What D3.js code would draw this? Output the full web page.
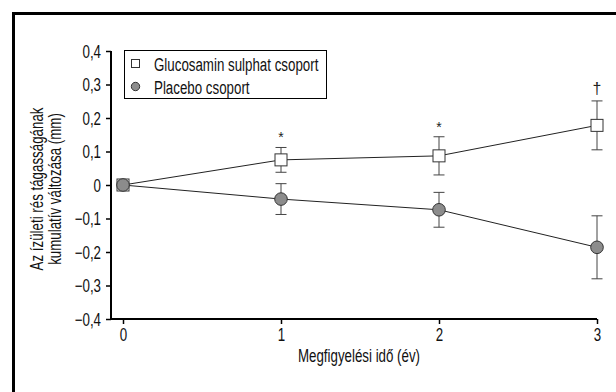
<!DOCTYPE html>
<html><head><meta charset="utf-8">
<script src="https://cdn.jsdelivr.net/npm/d3@7"></script>
<style>
html,body{margin:0;padding:0;background:#fff;}
svg text{font-family:"Liberation Sans",Arial,sans-serif;fill:#111;}
</style></head>
<body>
<svg id="c" width="616" height="392"></svg>
<script>
const years = [0, 1, 2, 3];
const yTicks = [0.4, 0.3, 0.2, 0.1, 0, -0.1, -0.2, -0.3, -0.4];
const glucoValues = [0, 0.075, 0.087, 0.178];
const glucoErr = [0, 0.037, 0.057, 0.073];
const placeboValues = [0, -0.042, -0.074, -0.186];
const placeboErr = [0, 0.046, 0.052, 0.094];
const marks = ["", "*", "*", "†"];
const seriesNames = ["Glucosamin sulphat csoport", "Placebo csoport"];
const yTitle = ["Az ízületi rés tágasságának", "kumulatív változása (mm)"];
const xTitle = "Megfigyelési idő (év)";

const svg = d3.select("#c");
svg.append("path").attr("d","M13.5,392 L13.5,13.5 L616,13.5").attr("fill","none").attr("stroke","#000").attr("stroke-width",3);

const x = d3.scaleLinear().domain([0,3]).range([123,597]);
const y = d3.scaleLinear().domain([-0.4,0.4]).range([319,51]);
const axisX0 = 111;
const FS = "18px";

const fmt = v => v===0 ? "0" : (v<0 ? "\u2212" : "") + Math.abs(v).toFixed(1).replace(".", ",");

const ya = svg.append("g").attr("transform",`translate(${axisX0},0)`)
  .call(d3.axisLeft(y).tickValues(yTicks).tickFormat(fmt).tickSize(5).tickPadding(5));
ya.select(".domain").attr("stroke","#000").attr("stroke-width",2).attr("d",`M0,${y(0.4)}V${y(-0.4)}`);
ya.selectAll(".tick line").attr("stroke","#000").attr("stroke-width",1.5);
ya.selectAll(".tick text").style("font-size",FS).attr("fill","#111").attr("dy","0.36em");

const xa = svg.append("g").attr("transform",`translate(0,${y(-0.4)})`)
  .call(d3.axisBottom(x).tickValues(years).tickFormat(d3.format("d")).tickSize(5).tickPadding(4));
xa.select(".domain").attr("stroke","#000").attr("stroke-width",2).attr("d",`M${axisX0},0H${x(3)}`);
xa.selectAll(".tick line").attr("stroke","#000").attr("stroke-width",1.5);
xa.selectAll(".tick text").style("font-size",FS).attr("fill","#111");

svg.append("text").attr("class","nar").attr("transform","translate(43,189) rotate(-90)").attr("text-anchor","middle")
  .style("font-size",FS).text(yTitle[0]);
svg.append("text").attr("class","nar").attr("transform","translate(61,189) rotate(-90)").attr("text-anchor","middle")
  .style("font-size",FS).text(yTitle[1]);
svg.append("text").attr("class","nar").attr("x",359).attr("y",362).attr("text-anchor","middle").style("font-size",FS).text(xTitle);

const line = d3.line().x((d,i)=>x(years[i])).y(d=>y(d));
svg.append("path").datum(glucoValues).attr("d",line).attr("fill","none").attr("stroke","#222").attr("stroke-width",1);
svg.append("path").datum(placeboValues).attr("d",line).attr("fill","none").attr("stroke","#222").attr("stroke-width",1);

function errBars(vals, errs){
  const g = svg.append("g").attr("stroke","#444").attr("stroke-width",1);
  years.forEach((yr,i)=>{
    if(!errs[i]) return;
    const cx = x(yr);
    g.append("line").attr("x1",cx).attr("x2",cx).attr("y1",y(vals[i]+errs[i])).attr("y2",y(vals[i]-errs[i]));
    [vals[i]+errs[i], vals[i]-errs[i]].forEach(v=>{
      g.append("line").attr("x1",cx-5.5).attr("x2",cx+5.5).attr("y1",y(v)).attr("y2",y(v));
    });
  });
}
errBars(glucoValues, glucoErr);
errBars(placeboValues, placeboErr);

svg.selectAll("rect.g").data(glucoValues).enter().append("rect")
  .attr("x",(d,i)=>x(years[i])-6).attr("y",d=>y(d)-6).attr("width",12).attr("height",12)
  .attr("fill","#fff").attr("stroke","#333").attr("stroke-width",1);
svg.selectAll("circle.p").data(placeboValues).enter().append("circle")
  .attr("cx",(d,i)=>x(years[i])).attr("cy",d=>y(d)).attr("r",6.3)
  .attr("fill","#8c8c8c").attr("stroke","#333").attr("stroke-width",1);

years.forEach((yr,i)=>{
  if(!marks[i]) return;
  svg.append("text").attr("x",x(yr)).attr("y",y(glucoValues[i]+glucoErr[i])-(marks[i]==="*"?5:7))
    .attr("text-anchor","middle")
    .style("font-size", marks[i]==="*"?"14px":"16px").style("fill","#222").text(marks[i]);
});

const lg = svg.append("g");
lg.append("rect").attr("x",124.5).attr("y",50.5).attr("width",202).attr("height",48)
  .attr("fill","#fff").attr("stroke","#000").attr("stroke-width",1);
lg.append("rect").attr("x",131.5).attr("y",59.5).attr("width",8).attr("height",8).attr("fill","#fff").attr("stroke","#333");
lg.append("circle").attr("cx",135.5).attr("cy",86.5).attr("r",4.2).attr("fill","#8c8c8c").attr("stroke","#333");
lg.append("text").attr("class","nar").attr("x",154).attr("y",71).style("font-size",FS).text(seriesNames[0]);
lg.append("text").attr("class","nar").attr("x",154).attr("y",94).style("font-size",FS).text(seriesNames[1]);

svg.selectAll(".nar, .tick text").each(function(){
  const L = this.getComputedTextLength();
  d3.select(this).attr("textLength", L*0.74).attr("lengthAdjust","spacingAndGlyphs");
});
</script>
</body></html>
